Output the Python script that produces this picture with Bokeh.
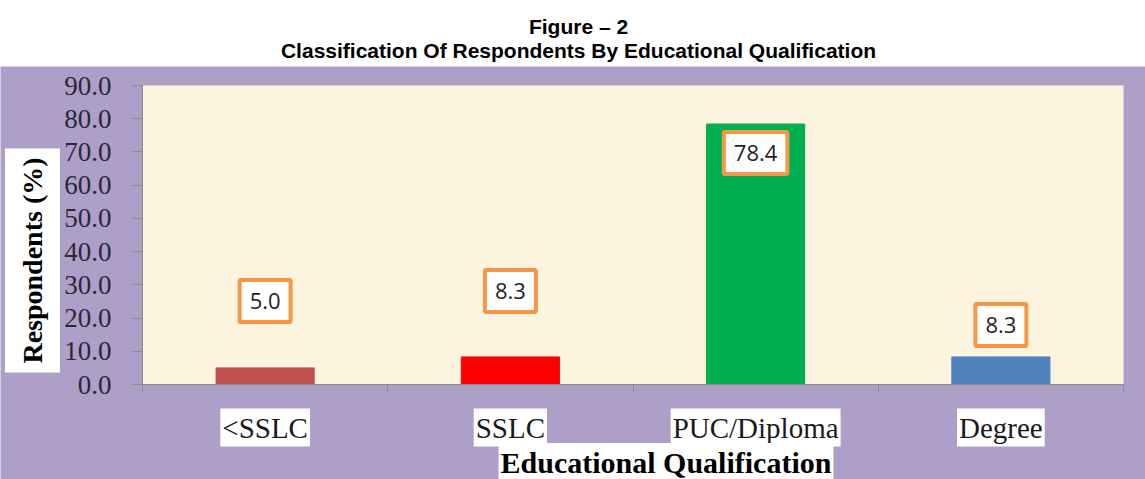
import math
from bokeh.plotting import figure
from bokeh.models import Range1d, FixedTicker, NumeralTickFormatter, Label
from bokeh.layouts import column
from bokeh.embed import file_html
from bokeh.resources import INLINE

# ---------------- data ----------------
title_line1 = "Figure – 2"
title_line2 = "Classification Of Respondents By Educational Qualification"
categories = ["<SSLC", "SSLC", "PUC/Diploma", "Degree"]
values = [5.0, 8.3, 78.4, 8.3]
bar_colors = ["#c0504d", "#ff0000", "#00b050", "#4f81bd"]
y_ticks = [0, 10, 20, 30, 40, 50, 60, 70, 80, 90]
y_title = "Respondents (%)"
x_title = "Educational Qualification"

# ---------------- style / layout ----------------
label_offsets_px = [67, 66, -29, 32]   # data-label box offsets from bar tops (screen px)
W = 1145
HEAD_H = 66
H = 413
PLOT_L, PLOT_R = 142, 1123           # cream plot area, px from left of main figure
PLOT_T, PLOT_B = 19, 318             # cream plot area, px from top of main figure
PURPLE = "#ae9fc8"
CREAM = "#fdf4e0"
ORANGE = "#f79646"
AXIS_GRAY = "#8c8c8c"

n = len(categories)
ymax = y_ticks[-1]
px_x = (PLOT_R - PLOT_L) / n
px_y = (PLOT_B - PLOT_T) / ymax

# ---------------- title strip ----------------
head = figure(width=W, height=HEAD_H, x_range=Range1d(0, W), y_range=Range1d(0, HEAD_H),
              x_axis_type=None, y_axis_type=None, toolbar_location=None,
              output_backend="svg", min_border=0)
head.outline_line_color = None
head.background_fill_color = "white"
head.border_fill_color = "white"
for txt, yy in [(title_line1, 40), (title_line2, 16)]:
    head.add_layout(Label(x=578, y=yy, text=txt, text_align="center", text_baseline="middle",
                          text_font="Liberation Sans", text_font_style="bold",
                          text_font_size="21px", text_color="black"))

# ---------------- main chart ----------------
p = figure(width=W, height=H,
           x_range=Range1d(-PLOT_L / px_x, n + (W - PLOT_R) / px_x),
           y_range=Range1d(-(H - PLOT_B) / px_y, ymax + PLOT_T / px_y),
           toolbar_location=None, output_backend="svg", min_border=0)
p.border_fill_color = PURPLE
p.background_fill_color = PURPLE
p.outline_line_color = None
p.grid.visible = False

# cream plot area
p.quad(left=[0], right=[n], bottom=[0], top=[ymax], fill_color=CREAM, line_color=None)

xs = [i + 0.5 for i in range(n)]
p.vbar(x=xs, top=values, width=0.4, fill_color=bar_colors, line_color=bar_colors)

# y axis (placed at x = 0)
p.yaxis.fixed_location = 0
p.yaxis.bounds = (0, ymax)
p.yaxis.ticker = FixedTicker(ticks=y_ticks)
p.yaxis.formatter = NumeralTickFormatter(format="0.0")
p.yaxis.major_label_text_font = "Liberation Serif"
p.yaxis.major_label_text_font_size = "27px"
p.yaxis.major_label_text_color = "#2a2838"
p.yaxis.major_tick_out = 10
p.yaxis.major_tick_in = 0
p.yaxis.major_tick_line_color = AXIS_GRAY
p.yaxis.minor_tick_line_color = None
p.yaxis.axis_line_color = AXIS_GRAY
p.yaxis.major_label_standoff = 21

# x axis (placed at y = 0), boundary ticks between categories
p.xaxis.fixed_location = 0
p.xaxis.bounds = (0, n)
p.xaxis.ticker = FixedTicker(ticks=[], minor_ticks=list(range(n + 1)))
p.xaxis.minor_tick_out = 8
p.xaxis.minor_tick_in = 0
p.xaxis.minor_tick_line_color = AXIS_GRAY
p.xaxis.major_tick_line_color = None
p.xaxis.axis_line_color = AXIS_GRAY

# category labels (white boxes)
for xc, name in zip(xs, categories):
    p.add_layout(Label(x=xc, y=0, y_offset=-43, text=name, text_align="center",
                       text_baseline="middle", text_font="Liberation Serif",
                       text_font_size="29px", text_color="#1a1a1a",
                       background_fill_color="white", padding=(2, 3)))

# data labels
for xc, v, off in zip(xs, values, label_offsets_px):
    p.add_layout(Label(x=xc, y=v, y_offset=off, text=f"{v:.1f}", text_align="center",
                       text_baseline="middle", text_font="Open Sans",
                       text_font_size="22px", text_color="#1f1f1f",
                       background_fill_color="white", border_line_color=ORANGE,
                       border_line_width=4, padding=(10, 13)))

# axis titles
p.add_layout(Label(x=0, y=0, x_offset=-110, y_offset=124, text=y_title, angle=math.pi / 2,
                   text_align="center", text_baseline="middle", text_font="Liberation Serif",
                   text_font_style="bold", text_font_size="28px", text_color="black",
                   background_fill_color="white", padding=(9, 12)))
p.add_layout(Label(x=n / 2, y=0, x_offset=33, y_offset=-78, text=x_title,
                   text_align="center", text_baseline="middle", text_font="Liberation Serif",
                   text_font_style="bold", text_font_size="30px", text_color="black",
                   background_fill_color="white", padding=(2, 3)))

layout = column(head, p, spacing=0)
open("out.html", "w").write(file_html(layout, INLINE))
